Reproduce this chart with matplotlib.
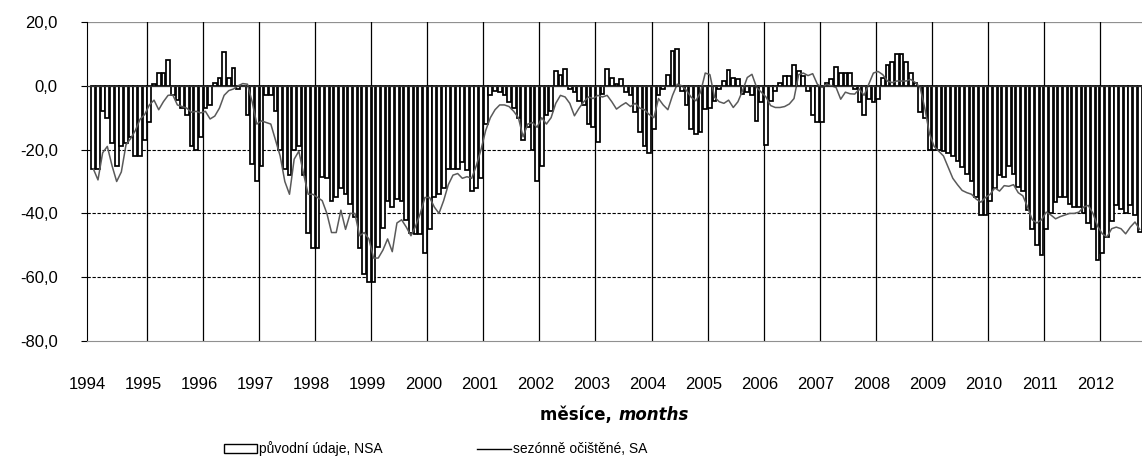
import matplotlib
matplotlib.use("Agg")
import matplotlib.pyplot as plt
import numpy as np
from matplotlib.patches import Patch
from matplotlib.lines import Line2D

plt.rcParams['font.family'] = ['Liberation Sans', 'DejaVu Sans']

# monthly values, Jan 1994 - Sep 2012
years = list(range(1994, 2013))
nsa = [
    -26, -26, -8, -10, -18, -25, -19, -18, -16, -22, -22, -17,            # 1994
    -11.5, 0.5, 4, 4, 8, -3, -4.5, -7, -9, -19, -20, -16,                 # 1995
    -7, -6, 1, 2.5, 10.5, 2.5, 5.5, -1, 0, -9, -24.5, -30,                # 1996
    -25, -3, -3, -8, -20, -26, -28, -20, -19, -28, -46, -51,              # 1997
    -51, -28.5, -29, -36, -35, -32, -34, -37, -41, -51, -59, -61.5,       # 1998
    -61.5, -50.5, -44.5, -36, -38, -35.5, -36, -42, -46, -46.5, -46.5, -52.5,  # 1999
    -45, -35, -34, -32, -26, -26, -26, -24, -26.5, -33, -32, -29,         # 2000
    -12, -3, -1.5, -2, -3, -5, -7, -10, -17, -13, -20, -30,               # 2001
    -25, -9, -8, 4.7, 3.4, 5.2, -1, -2, -4.7, -6, -12, -13,               # 2002
    -17.5, -2.5, 5.2, 2.6, 0.5, 2, -2, -3, -8.3, -14.6, -19, -21,         # 2003
    -13.5, -3, -1, 3.5, 11, 11.5, -1.5, -6, -13.5, -15, -14.6, -7.3,      # 2004
    -7, -4.7, -1, 1.5, 5, 2.5, 2, -2.6, -2, -3, -11, -5,                  # 2005
    -18.5, -4.7, -1.5, 1, 3, 3, 6.5, 4.5, 3, -1.5, -9, -11.5,             # 2006
    -11.5, 1, 2, 6, 4, 4, 4, -1, -5, -9, -4, -5,                          # 2007
    -4, 2.5, 6.5, 7.5, 10, 10, 7.5, 4, 1, -8.3, -10, -20,                 # 2008
    -20, -20, -20.5, -21, -22, -23.5, -25.5, -27.5, -30, -35, -40.5, -40.5,  # 2009
    -36, -32, -28, -28.6, -25, -27.6, -31.8, -33, -39, -45, -50, -53,     # 2010
    -45, -40, -36.5, -35, -35, -37, -38, -38, -40, -43, -45, -54.5,       # 2011
    -52.5, -47.5, -42.5, -37.5, -38.5, -40, -37.5, -40.5, -45.8,          # 2012
]
sa = [
    -26, -29.5, -21, -19, -25, -30, -27, -18.5, -16.5, -14, -10.5, -9,    # 1994
    -6, -4.5, -7.5, -5, -3, -2.8, -6, -6.5, -7, -8.3, -8, -8.5,           # 1995
    -8, -10.4, -9.5, -7, -3, -1.5, -1, 0, 0.7, 0.5, -5, -12,              # 1996
    -11, -11.5, -12, -17, -22, -30, -34, -23, -20.5, -27.5, -34, -34,     # 1997
    -35, -36, -40, -46, -46, -39, -45, -40, -40, -47, -46, -48,           # 1998
    -54, -54, -51.5, -48, -52, -43, -42, -44.3, -47, -44, -40, -35,       # 1999
    -35, -38, -40, -36, -31, -28, -27.5, -29, -28.5, -29, -25, -20,       # 2000
    -14, -10, -7.5, -6, -6, -6.5, -8, -10, -16, -12, -11.5, -13,          # 2001
    -10, -12, -10, -5.5, -3, -3.5, -5.5, -9.4, -7, -5, -3.5, -4,          # 2002
    -3, -3.5, -3, -5, -7.3, -6.2, -5.3, -6.5, -5.5, -7, -7.5, -9,         # 2003
    -10, -4, -6, -7.5, -3, 0.5, 0, -1.5, -3.6, -4.7, -2, 4,               # 2004
    3.5, -3.6, -5, -5.5, -4.5, -6.8, -5, -1.5, 2.6, 3.6, -0.5, -2,        # 2005
    -3.5, -6.2, -6.8, -6.8, -6.5, -5.7, -4, 3.5, 4, 3.2, 3.8, 0.5,        # 2006
    -0.5, 0.5, 0, -0.5, -4.2, -2, -2.5, -2.6, -1, -3, 0.5, 4,             # 2007
    4.5, 3.5, 1.5, 1, 1.5, 1.5, 1.5, 2, 1, -0.5, -7, -15,                 # 2008
    -19, -20.5, -22, -25.5, -29, -31, -32.8, -33.5, -34, -35.5, -36.5, -35,  # 2009
    -34, -32, -33, -31.3, -31.5, -31, -33.5, -34.5, -38, -42, -43, -42,   # 2010
    -39.6, -40.5, -41.7, -41, -40.5, -40, -40, -39.6, -38, -37.5, -40, -44,  # 2011
    -46.4, -47.4, -44.8, -44.3, -44.8, -46.4, -44.3, -42.7, -45,          # 2012
]
yticks = [-80, -60, -40, -20, 0, 20]
nsa_label = 'původní údaje, NSA'
sa_label = 'sezónně očištěné, SA'

W, H = 1142, 461
fig = plt.figure(figsize=(W / 100, H / 100), dpi=100)
ax = fig.add_axes([87 / W, 1 - 341 / H, (W - 87) / W, (341 - 22) / H])

x = np.arange(len(nsa)) + 0.5
ax.bar(x, nsa, width=0.8, color='white', edgecolor='black', linewidth=1.25, zorder=3)
ax.plot(x, sa, color='#5a5a5a', lw=1.1, zorder=4)

ax.set_xlim(0, len(nsa))
ax.set_ylim(-80, 20)

# grid: dashed horizontals, solid year separators
for v in (-20, -40, -60):
    ax.axhline(v, color='black', lw=0.8, ls=(0, (3, 1.5)), zorder=1)
ax.axhline(0, color='#333333', lw=0.9, zorder=5)
ax.axhline(20, color='#909090', lw=0.9, zorder=1)
for n in range(1, len(years)):
    ax.axvline(12 * n, color='black', lw=0.9, zorder=2)

ax.set_yticks(yticks)
ax.set_yticklabels([f"{v:.1f}".replace('.', ',') for v in yticks], fontsize=12)
ax.tick_params(axis='y', length=4, width=0.8, direction='out', pad=17)
ax.set_xticks([12 * i - 0.85 for i in range(len(years))])
ax.set_xticklabels([str(y) for y in years], fontsize=12)
ax.tick_params(axis='x', length=0, pad=26)

for s in ('top', 'right'):
    ax.spines[s].set_visible(False)
ax.spines['left'].set_color('black')
ax.spines['bottom'].set_color('#909090')

# axis title: bold + bold italic
fig.text(618 / W, 1 - 415 / H, 'měsíce, ', ha='right', va='center',
         fontsize=12, fontweight='bold', family='DejaVu Sans')
fig.text(618 / W, 1 - 415 / H, 'months', ha='left', va='center',
         fontsize=12, fontweight='bold', fontstyle='italic', family='DejaVu Sans')

handles = [Patch(facecolor='white', edgecolor='black', linewidth=1.0),
           Line2D([], [], color='black', lw=1.0)]
fig.legend(handles, [nsa_label, sa_label], loc='center left',
           bbox_to_anchor=(224 / W, 1 - 449 / H), ncol=2, frameon=False,
           fontsize=10, handlelength=2.4, handleheight=0.6, handletextpad=0.15,
           columnspacing=6.8, borderpad=0, borderaxespad=0)

fig.savefig('out.png', dpi=100)
